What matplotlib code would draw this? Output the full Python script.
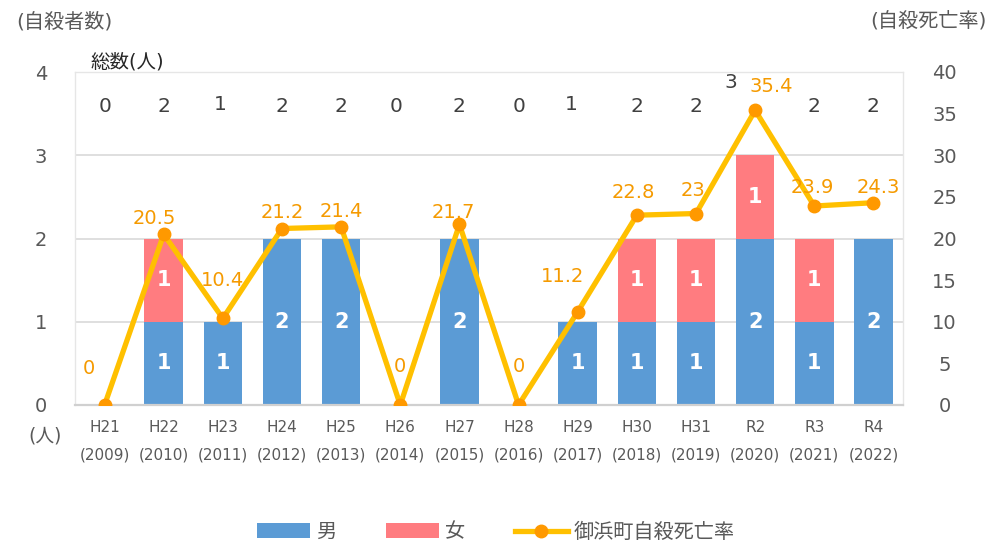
import matplotlib
matplotlib.use("Agg")
import matplotlib.pyplot as plt
from matplotlib.patches import Patch
from matplotlib.lines import Line2D

plt.rcParams['font.family'] = ['DejaVu Sans', 'Noto Sans CJK JP']

# ---- data ----
years_jp = ["H21", "H22", "H23", "H24", "H25", "H26", "H27", "H28",
            "H29", "H30", "H31", "R2", "R3", "R4"]
years_ad = ["2009", "2010", "2011", "2012", "2013", "2014", "2015", "2016",
            "2017", "2018", "2019", "2020", "2021", "2022"]
male = [0, 1, 1, 2, 2, 0, 2, 0, 1, 1, 1, 2, 1, 2]
female = [0, 1, 0, 0, 0, 0, 0, 0, 0, 1, 1, 1, 1, 0]
totals = [0, 2, 1, 2, 2, 0, 2, 0, 1, 2, 2, 3, 2, 2]
rate = [0, 20.5, 10.4, 21.2, 21.4, 0, 21.7, 0, 11.2, 22.8, 23, 35.4, 23.9, 24.3]

# ---- styles ----
c_male = "#5B9BD5"
c_female = "#FF7C80"
c_line = "#FFC000"
c_marker = "#FF9900"
c_rate_txt = "#F59A00"
c_tick = "#595959"
c_grid = "#D9D9D9"

# label offsets (pixels) for rate labels
rate_off = [(-16, 37), (-9, 16), (0, 38), (0, 16), (0, 15), (0, 39), (-6, 12),
            (0, 39), (-15, 35), (-4, 23), (-3, 23), (16, 24), (-2, 19), (5, 15)]
# pixel offsets for total labels
tot_off = [(0, 0), (0, 0), (-3, 2), (0, 0), (0, 0), (-4, 0), (0, 0),
           (0, 0), (-6, 2), (0, 0), (0, 0), (-24, 24), (0, 0), (0, 0)]

fig = plt.figure(figsize=(9.95, 5.45), dpi=100)
ax = fig.add_axes([75/995, 1-405/545, (903-75)/995, (405-72)/545])
ax2 = ax.twinx()

x = list(range(len(years_jp)))
w = 0.65
ax.bar(x, male, width=w, color=c_male, zorder=2)
ax.bar(x, female, width=w, bottom=male, color=c_female, zorder=2)

for i in x:
    if male[i] > 0:
        ax.text(i, male[i]/2, str(male[i]), ha='center', va='center',
                color='white', fontsize=15, fontweight='bold', zorder=3)
    if female[i] > 0:
        ax.text(i, male[i] + female[i]/2, str(female[i]), ha='center', va='center',
                color='white', fontsize=15, fontweight='bold', zorder=3)

for i in x:
    ax.annotate(str(totals[i]), (i, 3.58), xytext=tot_off[i],
                textcoords='offset pixels', ha='center', va='center',
                color="#404040", fontsize=14.5, zorder=3)

ax.set_xlim(-0.5, len(x) - 0.5)
ax.set_ylim(0, 4)
ax.set_yticks([0, 1, 2, 3, 4])
ax.set_yticklabels(["0", "1", "2", "3", "4"])
ax.set_xticks(x)
ax.set_xticklabels([f"{a}\n({b})" for a, b in zip(years_jp, years_ad)],
                   linespacing=2.0)
ax.tick_params(axis='x', length=0, pad=11, labelsize=11, colors=c_tick)
ax.tick_params(axis='y', length=0, pad=20, labelsize=14, colors=c_tick)
ax.grid(axis='y', color=c_grid, linewidth=1.2, zorder=0)
ax.set_axisbelow(True)
for s in ['left', 'right', 'top']:
    ax.spines[s].set_color("#E6E6E6")
    ax.spines[s].set_linewidth(1.0)
ax.spines['bottom'].set_color("#D0D0D0")
ax.spines['bottom'].set_linewidth(1.6)

ax2.plot(x, rate, color=c_line, linewidth=3.8, marker='o', markersize=9,
         markerfacecolor=c_marker, markeredgecolor=c_marker, zorder=4)
ax2.set_ylim(0, 40)
ax2.set_yticks(range(0, 41, 5))
ax2.tick_params(axis='y', length=0, pad=30, labelsize=14, colors=c_tick)
for lab in ax2.get_yticklabels():
    lab.set_horizontalalignment('center')
for s in ax2.spines.values():
    s.set_visible(False)

for i in x:
    v = rate[i]
    txt = f"{v:g}"
    ax2.annotate(txt, (i, v), xytext=rate_off[i], textcoords='offset pixels',
                 ha='center', va='center', color=c_rate_txt, fontsize=14, zorder=5)

fig.text(64/995, 1-22/545, "(自殺者数)", ha='center', va='center',
         color=c_tick, fontsize=14.5)
fig.text(928/995, 1-22/545, "(自殺死亡率)", ha='center', va='center',
         color=c_tick, fontsize=14.5)
fig.text(127/995, 1-62/545, "総数(人)", ha='center', va='center',
         color="#262626", fontsize=14)
fig.text(45/995, 1-436/545, "(人)", ha='center', va='center',
         color=c_tick, fontsize=13.5)

handles = [Patch(facecolor=c_male, edgecolor='none'),
           Patch(facecolor=c_female, edgecolor='none'),
           Line2D([0], [0], color=c_line, linewidth=3.8, marker='o', markersize=9,
                  markerfacecolor=c_marker, markeredgecolor=c_marker)]
leg = fig.legend(handles, ["男", "女", "御浜町自殺死亡率"], loc='center',
                 bbox_to_anchor=(496/995, 1-532/545), ncol=3, frameon=False,
                 fontsize=14.5, handlelength=2.6, handleheight=0.7,
                 columnspacing=2.5, handletextpad=0.3, labelcolor=c_tick,
                 borderpad=0.2)

fig.savefig("out.png", dpi=100)
